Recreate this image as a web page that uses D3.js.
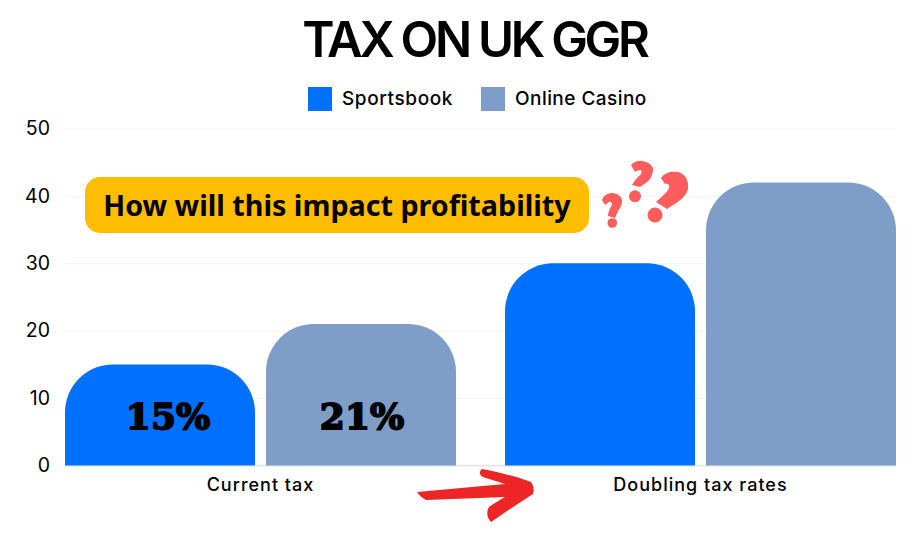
<!DOCTYPE html>
<html>
<head>
<meta charset="utf-8">
<script src="https://cdn.jsdelivr.net/npm/d3@7"></script>
<style>
  html, body { margin: 0; padding: 0; background: #fff; }
  text { font-family: Inter, "Noto Sans", sans-serif; fill: #000; }
</style>
</head>
<body>
<div id="chart"></div>
<script>
const categories = ["Current tax", "Doubling tax rates"];
const seriesNames = ["Sportsbook", "Online Casino"];
const sportsbook = [15, 30];
const onlineCasino = [21, 42];
const yTicks = [0, 10, 20, 30, 40, 50];
const barLabels = ["15%", "21%"];
const colors = ["#0070FF", "#7F9EC7"];

const width = 922, height = 535;
const svg = d3.select("#chart").append("svg")
    .attr("width", width)
    .attr("height", height)
    .style("display", "block");

// scales
const y = d3.scaleLinear().domain([0, 50]).range([465.5, 128.5]);
const x0 = d3.scaleBand().domain(categories).range([65, 896]).paddingInner(0.1114);
const x1 = d3.scaleBand().domain(seriesNames).range([0, x0.bandwidth()]).paddingInner(0.0547);
const radius = 48;

// title
svg.append("text")
    .attr("x", 474.5).attr("y", 56.5)
    .attr("text-anchor", "middle")
    .attr("font-size", 49)
    .attr("font-weight", 600)
    .attr("letter-spacing", -3.25)
    .text("TAX ON UK GGR");

// legend
const legendX = [308, 481];
const legendSpacing = [0.6, 0.45];
seriesNames.forEach((name, i) => {
    svg.append("rect")
        .attr("x", legendX[i]).attr("y", 87)
        .attr("width", 24).attr("height", 24)
        .attr("fill", colors[i]);
    svg.append("text")
        .attr("x", legendX[i] + 34).attr("y", 105)
        .attr("font-size", 19)
        .attr("font-weight", 450)
        .attr("letter-spacing", legendSpacing[i])
        .text(name);
});

// y axis with light grid
const yAxis = svg.append("g")
    .attr("transform", "translate(65,0)")
    .call(d3.axisLeft(y).tickValues(yTicks).tickSize(-831).tickPadding(15));
yAxis.select(".domain").remove();
yAxis.selectAll("line").attr("stroke", "#F4F4F4").attr("stroke-width", 1);
yAxis.selectAll("text").attr("font-size", 19.5).attr("font-weight", 400).attr("font-family", "Inter, sans-serif").attr("fill", "#000");

// baseline
svg.append("line")
    .attr("x1", 65).attr("x2", 896)
    .attr("y1", y(0)).attr("y2", y(0))
    .attr("stroke", "#E4E4E4").attr("stroke-width", 1.5);

// bars
function barPath(xl, w, top, bottom, r) {
    const p = d3.path();
    p.moveTo(xl, bottom);
    p.lineTo(xl, top + r);
    p.arcTo(xl, top, xl + r, top, r);
    p.lineTo(xl + w - r, top);
    p.arcTo(xl + w, top, xl + w, top + r, r);
    p.lineTo(xl + w, bottom);
    p.closePath();
    return p.toString();
}

[sportsbook, onlineCasino].forEach((values, s) => {
    svg.append("g").selectAll("path")
        .data(values)
        .enter()
        .append("path")
        .attr("d", (d, i) => barPath(x0(categories[i]) + x1(seriesNames[s]), x1.bandwidth(), y(d), y(0), radius))
        .attr("fill", colors[s]);
});

// labels in the first group
[sportsbook, onlineCasino].forEach((values, s) => {
    svg.append("text")
        .attr("x", x0(categories[0]) + x1(seriesNames[s]) + x1.bandwidth() / 2 + 8 - s * 7)
        .attr("y", 429)
        .attr("text-anchor", "middle")
        .attr("font-weight", 700)
        .attr("font-size", 36)
        .attr("stroke", "#000")
        .attr("stroke-width", 1.8)
        .style("font-family", "'DejaVu Serif', serif")
        .text(barLabels[s]);
});

// x labels
categories.forEach(c => {
    svg.append("text")
        .attr("x", x0(c) + x0.bandwidth() / 2)
        .attr("y", 491)
        .attr("text-anchor", "middle")
        .attr("font-size", 18)
        .attr("font-weight", 450)
        .attr("letter-spacing", 1)
        .text(c);
});

// callout
svg.append("rect")
    .attr("x", 85).attr("y", 177)
    .attr("width", 504).attr("height", 56)
    .attr("rx", 15)
    .attr("fill", "#FFBD00");
svg.append("text")
    .attr("x", 337).attr("y", 215.5)
    .attr("text-anchor", "middle")
    .attr("font-size", 28.7)
    .attr("font-weight", 700)
    .style("font-family", "'Noto Sans', sans-serif")
    .text("How will this impact profitability");

// question marks, traced by hand
const marks = [
    { hook: "M602,200 C604,195 608,193 612,193 C618,193 622,197 622,201 C622,205 620,208 618,211 L615,218 L608,216 C608,212 610,208 612,205 C612,203 611,201 609,202 C608,203 606,204 605,205 Z", dot: [612.3, 223, 4.8] },
    { hook: "M631,165 C634,162 638,160 642,161 C649,162 654,166 653,171 C652,176 650,180 647,182 L640,187 L632,185 C634,181 637,178 640,175 C642,173 642,170 640,170 C638,170 636,171 635,172 Z", dot: [635, 196.3, 6] },
    { hook: "M661,178 C665,172 672,171 678,172 C686,174 689,181 688,189 C686,196 680,201 673,205 L667,209 L656,202 C661,197 667,193 669,188 C670,185 668,183 665,184 Z", dot: [655, 215, 7.5] }
];
marks.forEach(m => {
    svg.append("path").attr("d", m.hook).attr("fill", "#FF5C5C");
    svg.append("circle")
        .attr("cx", m.dot[0]).attr("cy", m.dot[1]).attr("r", m.dot[2])
        .attr("fill", "#FF5C5C");
});

// hand drawn arrow
svg.append("path")
    .attr("d", "M417,492 L505,484 C497,481 488,479 483,477 C479,475 479,471 482,469 C497,472 515,476 531,482 C534,486 534,491 533,494 C519,503 505,512 491,522 C487,518 486,512 489,507 C494,503 500,500 505,497 L426,500 C422,498 419,495 417,492 Z")
    .attr("fill", "#EE2526");
</script>
</body>
</html>
